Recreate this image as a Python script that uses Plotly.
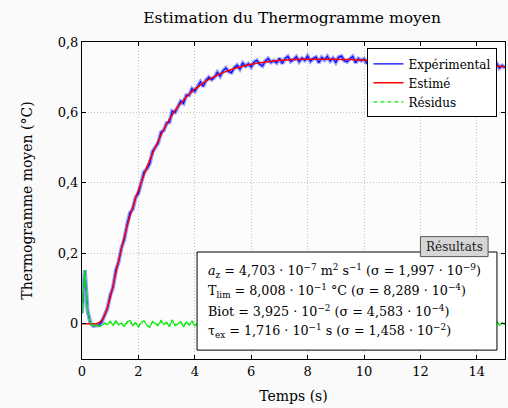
import numpy as np
import plotly.graph_objects as go

# time grid (s), 0.1 s step
temps = np.round(np.arange(151) * 0.1, 1)

# estimated thermogram (°C)
estime = [
    0.000, 0.000, 0.000, 0.000, 0.000, 0.000, 0.003, 0.010, 0.024, 0.046,
    0.074, 0.108, 0.143, 0.179, 0.214, 0.247, 0.277, 0.305, 0.331, 0.356,
    0.379, 0.401, 0.423, 0.444, 0.464, 0.483, 0.501, 0.518, 0.535, 0.551,
    0.566, 0.580, 0.593, 0.605, 0.616, 0.626, 0.635, 0.644, 0.652, 0.659,
    0.666, 0.672, 0.678, 0.684, 0.689, 0.694, 0.698, 0.702, 0.706, 0.710,
    0.713, 0.716, 0.719, 0.722, 0.725, 0.727, 0.729, 0.731, 0.733, 0.735,
    0.737, 0.738, 0.740, 0.741, 0.742, 0.743, 0.744, 0.745, 0.746, 0.747,
    0.748, 0.748, 0.749, 0.749, 0.750, 0.750, 0.750, 0.751, 0.751, 0.751,
    0.751, 0.751, 0.751, 0.751, 0.751, 0.751, 0.751, 0.751, 0.751, 0.751,
    0.751, 0.751, 0.750, 0.750, 0.750, 0.750, 0.750, 0.749, 0.749, 0.749,
    0.749, 0.748, 0.748, 0.748, 0.748, 0.747, 0.747, 0.747, 0.747, 0.746,
    0.746, 0.746, 0.745, 0.745, 0.745, 0.745, 0.744, 0.744, 0.744, 0.743,
    0.743, 0.743, 0.742, 0.742, 0.741, 0.741, 0.741, 0.740, 0.740, 0.739,
    0.739, 0.738, 0.738, 0.737, 0.737, 0.737, 0.736, 0.736, 0.735, 0.735,
    0.734, 0.734, 0.733, 0.733, 0.732, 0.732, 0.731, 0.731, 0.731, 0.730,
    0.730,
]

# residuals (experimental - estimated)
residus = [
    0.030, 0.152, 0.035, 0.002, -0.006, -0.004, -0.007, -0.005, 0.002, -0.003,
    0.007, -0.005, 0.009, -0.003, 0.002, -0.008, 0.005, 0.010, -0.006, 0.003,
    -0.009, 0.004, 0.008, -0.004, -0.010, 0.006, 0.001, -0.005, 0.009, -0.002,
    0.004, -0.008, 0.011, -0.005, 0.000, 0.006, -0.009, 0.005, -0.003, 0.008,
    -0.006, 0.002, 0.009, -0.010, 0.003, 0.006, -0.005, -0.002, 0.008, -0.007,
    0.005, 0.010, -0.003, -0.009, 0.002, 0.007, -0.006, 0.009, -0.002, 0.003,
    -0.008, 0.005, 0.008, -0.004, -0.010, 0.003, 0.009, -0.003, 0.001, -0.006,
    0.006, -0.009, 0.004, 0.010, -0.005, 0.000, 0.008, -0.007, 0.003, -0.003,
    0.009, -0.006, 0.002, 0.006, -0.010, 0.005, -0.002, 0.008, -0.005, 0.003,
    -0.009, 0.006, 0.010, -0.003, -0.006, 0.002, 0.009, -0.008, 0.004, -0.002,
    0.003, -0.009, 0.007, 0.005, -0.006, 0.000, 0.010, -0.004, -0.008, 0.006,
    0.001, -0.003, 0.009, -0.009, 0.004, 0.003, -0.006, 0.008, -0.002, -0.010,
    0.006, 0.003, -0.005, 0.009, -0.007, 0.002, 0.005, -0.003, 0.010, -0.006,
    -0.002, 0.008, -0.009, 0.003, 0.006, -0.005, 0.009, -0.003, -0.008, 0.005,
    0.002, -0.006, 0.008, 0.003, -0.009, 0.006, -0.002, 0.009, -0.005, 0.003,
    -0.003,
]

experimental = np.array(estime) + np.array(residus)

ytick_vals = [0, 0.2, 0.4, 0.6, 0.8]
ytick_text = ["0", "0,2", "0,4", "0,6", "0,8"]
xtick_vals = [0, 2, 4, 6, 8, 10, 12, 14]

resultats = [
    "<i>a</i><sub>z</sub> = 4,703 · 10<sup>−7</sup> m<sup>2</sup> s<sup>−1</sup> (σ = 1,997 · 10<sup>−9</sup>)",
    "T<sub>lim</sub> = 8,008 · 10<sup>−1</sup> °C (σ = 8,289 · 10<sup>−4</sup>)",
    "Biot = 3,925 · 10<sup>−2</sup> (σ = 4,583 · 10<sup>−4</sup>)",
    "τ<sub>ex</sub> = 1,716 · 10<sup>−1</sup> s (σ = 1,458 · 10<sup>−2</sup>)",
]

FONT = "DejaVu Serif"

fig = go.Figure()
fig.add_trace(go.Scatter(x=temps, y=experimental, mode="lines", showlegend=False,
                         line=dict(color="rgba(20,40,255,0.45)", width=4), hoverinfo="skip"))
fig.add_trace(go.Scatter(x=temps, y=experimental, mode="lines", name="Expérimental",
                         line=dict(color="#0000ff", width=1.2)))
fig.add_trace(go.Scatter(x=temps, y=estime, mode="lines", name="Estimé",
                         line=dict(color="#ff0000", width=1.5, shape="spline")))
# dashed entry for the legend, solid copy on top as the dense noise reads as a continuous line
fig.add_trace(go.Scatter(x=temps, y=residus, mode="lines", name="Résidus", legendgroup="res",
                         line=dict(color="#00ee00", width=1.2, dash="4px,3px")))
fig.add_trace(go.Scatter(x=temps, y=residus, mode="lines", showlegend=False, legendgroup="res",
                         line=dict(color="#00ee00", width=1.1), hoverinfo="skip"))

axis_common = dict(
    showline=True, linecolor="black", linewidth=1, mirror="ticks",
    ticks="inside", ticklen=4, tickcolor="black", automargin=False,
    showgrid=True, gridcolor="#c4c4c4", griddash="1px,2px", gridwidth=1,
    zeroline=False, tickfont=dict(family=FONT, size=13, color="black"),
)

fig.update_layout(
    width=508, height=408,
    margin=dict(l=82, r=3, t=42, b=49),
    paper_bgcolor="#fafafa", plot_bgcolor="#fcfcfc",
    font=dict(family=FONT, color="black"),
    title=dict(text="Estimation du Thermogramme moyen", x=0.575, xanchor="center",
               y=0.958, yanchor="middle", font=dict(family=FONT, size=15.5)),
    xaxis=dict(range=[0, 15], tickvals=xtick_vals,
               title=dict(text="Temps (s)", font=dict(family=FONT, size=14), standoff=13),
               **axis_common),
    yaxis=dict(range=[-0.1, 0.8], tickvals=ytick_vals, ticktext=ytick_text,
               title=dict(text="Thermogramme moyen (°C)", font=dict(family=FONT, size=14), standoff=21),
               **axis_common),
    legend=dict(x=0.982, y=0.98, xanchor="right", yanchor="top",
                bgcolor="white", bordercolor="black", borderwidth=1,
                font=dict(family=FONT, size=12), tracegroupgap=0),
    showlegend=True,
)

# results box
fig.add_shape(type="rect", xref="paper", yref="paper", x0=0.272, x1=0.981, y0=0.028, y1=0.3375,
              line=dict(color="black", width=1), fillcolor="white", layer="above")
for i, line in enumerate(resultats):
    fig.add_annotation(xref="paper", yref="paper", x=0.293, y=0.278 - i * 0.0635,
                       xanchor="left", yanchor="middle", showarrow=False, align="left",
                       text=line, font=dict(family=FONT, size=12.7, color="black"))
fig.add_shape(type="rect", xref="paper", yref="paper", x0=0.80, x1=0.96, y0=0.323, y1=0.386,
              line=dict(color="#555555", width=1), fillcolor="#d6d6d6", layer="above")
fig.add_annotation(xref="paper", yref="paper", x=0.88, y=0.3545, xanchor="center", yanchor="middle",
                   showarrow=False, text="Résultats", font=dict(family=FONT, size=12, color="#222222"))

fig.write_html("out.html", config={"displayModeBar": False},
               post_script="document.body.style.margin='0';document.body.style.overflow='hidden';")
